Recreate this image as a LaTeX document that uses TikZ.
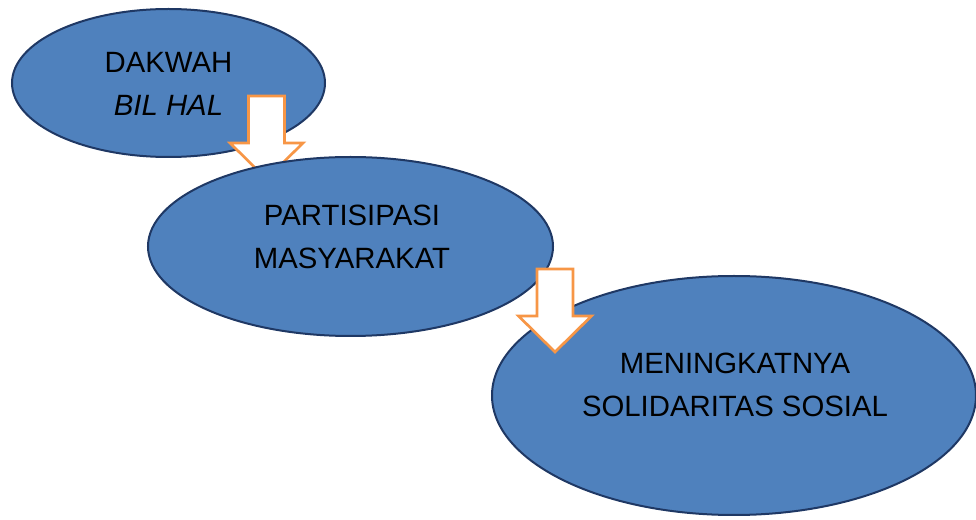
\documentclass[tikz,border=0pt]{standalone}
\usepackage{fontspec}
\setmainfont{Liberation Sans}
\usetikzlibrary{shapes.geometric}
\usepackage{xcolor}
\definecolor{ovalblue}{RGB}{79,129,189}
\definecolor{ovalline}{RGB}{31,56,100}
\definecolor{arroworange}{RGB}{247,150,70}

\begin{document}
\begin{tikzpicture}[x=0.75pt,y=-0.75pt]

\tikzstyle{every node}=[font=\fontsize{22}{32.25}\selectfont]
\tikzstyle{oval}=[ellipse,draw=ovalline,fill=ovalblue,line width=1.5pt,inner sep=0pt]
\tikzstyle{caption}=[align=center,text=black,inner sep=0pt]
\tikzstyle{blockarrow}=[draw=arroworange,fill=white,line width=2pt,line join=miter]

\def\arrowdown{++(-18,0) -- ++(36,0) -- ++(0,47) -- ++(18.5,0) -- ++(-36.5,36) -- ++(-36.5,-36) -- ++(18.5,0) -- cycle}

\useasboundingbox (0,0) rectangle (976,520);

\node (dakwah) [oval,minimum width=234.75pt,minimum height=111pt] at (168.5,83) {};
\node (dakwahtext) [caption] at (168.5,84) {DAKWAH\\\textit{BIL HAL}};

\coordinate (arrowa) at (266.5,96);
\draw[blockarrow] (arrowa) \arrowdown;

\node (partisipasi) [oval,minimum width=303.75pt,minimum height=134.25pt] at (350.5,246.5) {};
\node (partisipasitext) [caption] at (352,237) {PARTISIPASI\\MASYARAKAT};

\node (solidaritas) [oval,minimum width=363pt,minimum height=179.25pt] at (734,395.5) {};
\node (solidaritastext) [caption] at (735,385) {MENINGKATNYA\\SOLIDARITAS SOSIAL};

\coordinate (arrowb) at (555,269);
\draw[blockarrow] (arrowb) \arrowdown;

\end{tikzpicture}
\end{document}
